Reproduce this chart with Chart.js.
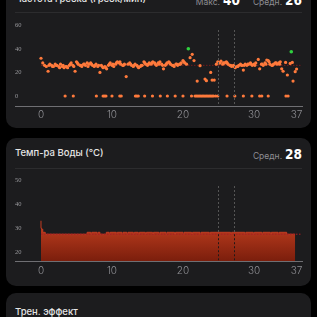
<!DOCTYPE html>
<html lang="ru">
<head>
<meta charset="utf-8">
<script src="https://cdn.jsdelivr.net/npm/chart.js@4.4.1/dist/chart.umd.min.js"></script>
<style>
  html, body { margin: 0; padding: 0; background: #000; width: 317px; height: 317px; overflow: hidden; font-family: Inter, "Noto Sans", sans-serif; }
  .card { position: absolute; left: 6px; width: 305px; background: #1c1c1e; border-radius: 10px; }
  .title { position: absolute; left: 9px; font-size: 9.5px; font-weight: 500; color: #e6e6e6; line-height: 12px; white-space: nowrap; }
  .stat { position: absolute; right: 9px; line-height: 14px; white-space: nowrap; }
  .stat .lbl { font-size: 8.5px; color: #8e8e93; }
  .stat .num { font-family: "Liberation Sans Narrow", "DejaVu Sans Condensed", sans-serif; font-weight: bold; font-size: 13.5px; color: #fff; margin-left: 3px; }
  .sep { position: absolute; left: 9px; right: 9px; height: 1px; background: #2c2c2e; }
  canvas { position: absolute; }
</style>
</head>
<body>

<div class="card" style="top:-16px; height:144px;">
  <div class="title" style="top:9px;">Частота гребка (гребк/мин)</div>
  <div class="stat" style="top:8px;"><span class="lbl">Макс.</span><span class="num">40</span><span class="lbl" style="margin-left:13px;">Средн.</span><span class="num">26</span></div>
  <div class="sep" style="top:28px;"></div>
</div>

<div class="card" style="top:138px; height:148px;">
  <div class="title" style="top:9px;">Темп-ра Воды (°C)</div>
  <div class="stat" style="top:8px;"><span class="lbl">Средн.</span><span class="num">28</span></div>
  <div class="sep" style="top:30px;"></div>
</div>

<div class="card" style="top:293px; height:40px;">
  <div class="title" style="top:13px;">Трен. эффект</div>
</div>

<canvas id="chartGrebok" width="305" height="109" style="left:6px; top:14px;"></canvas>
<canvas id="chartVoda" width="305" height="112" style="left:6px; top:166px;"></canvas>

<script>
// ось X (минуты)
const xTickValues = [0, 10, 20, 30, 36];
const xTickLabels = ['0', '10', '20', '30', '37'];
const pauseTimes = [24.93, 27.18];

// частота гребка
const strokeTimes = [0, 0.25, 0.5, 0.75, 1, 1.25, 1.5, 1.75, 2, 2.25, 2.5, 2.75, 3, 3.25, 3.5, 3.75, 4, 4.25, 4.5, 4.8,
  5, 5.25, 5.5, 5.75, 6, 6.25, 6.5, 6.75, 7, 7.25, 7.5, 7.75, 8, 8.3, 8.5, 8.75, 9, 9.25, 9.5, 9.75,
  10, 10.25, 10.5, 10.75, 11, 11.25, 11.5, 11.75, 12, 12.25, 12.5, 12.75, 13, 13.25, 13.5, 13.75, 14, 14.25, 14.5, 14.75,
  15, 15.25, 15.5, 15.75, 16, 16.25, 16.5, 16.75, 17, 17.25, 17.5, 17.75, 18, 18.25, 18.5, 18.75, 19, 19.25, 19.5, 19.75,
  20, 20.25, 20.5, 21, 21.3, 21.55, 22, 22.4, 23.1, 23.3, 23.9, 24.1, 24.4, 24.7, 24.9,
  25.1, 25.35, 25.6, 25.85, 26.1, 26.35, 26.6, 26.85, 27.1, 27.35, 27.6, 27.85, 28.1, 28.35, 28.5, 28.75, 29, 29.25, 29.5, 29.75,
  30, 30.25, 30.6, 30.8, 31.05, 31.3, 31.55, 31.8, 32, 32.25, 32.5, 32.75, 33, 33.25, 33.5, 33.7, 33.9, 34.1, 34.45, 34.7,
  35.1, 35.4, 35.5, 35.8, 36,
  1.12, 1.62, 2.12, 2.62, 3.12, 3.62, 4.12, 4.62, 5.12, 5.62, 6.12, 6.62, 7.12, 7.62, 8.12, 8.62,
  9.12, 9.62, 10.12, 10.62, 11.12, 11.62, 12.62, 13.12, 13.62, 14.12, 14.62, 15.12, 15.62, 16.12, 16.62, 17.12,
  17.62, 18.12, 18.62, 19.12, 19.62, 20.12, 25.22, 25.72, 26.22, 26.72, 27.22, 27.72, 28.22, 28.62,
  29.12, 29.62, 30.12, 31.17, 31.67, 32.12, 32.62, 33.12, 33.62];
const strokeRates = [32, 28, 26, 25, 21, 27, 26, 25, 27, 26, 25, 27, 25, 24, 25, 24, 26, 28, 26, 21,
  29, 27, 26, 25, 27, 26, 28, 27, 28, 26, 25, 27, 25, 20, 26, 24, 25, 23, 26, 28,
  26, 25, 27, 29, 28, 27, 26, 27, 16.5, 27, 28, 26, 25, 27, 26, 24, 25, 26, 29, 27,
  26, 28, 27, 29, 28, 26, 28, 29, 27, 23, 26, 28, 29, 27, 26, 25, 27, 26, 27, 28,
  30, 28, 27, 32.5, 35.3, 30, 12.7, 25.7, 14.4, 13, 20, 13.5, 13.5, 27, 29,
  28, 29.5, 27, 28, 29, 27, 26, 25, 26, 24, 25, 26, 27, 26, 22, 27, 26, 27, 28, 26,
  27, 28, 31, 23, 27, 26, 28, 30.5, 30, 27, 26, 27, 28, 27, 28, 29, 23, 21, 28.5, 17.8,
  27.6, 28.5, 12.7, 20.6, 22.9,
  26, 25, 26, 24, 26, 25, 27, 25, 28, 26, 27, 25, 27, 26, 26, 25,
  24, 27, 27, 28, 29, 26, 27, 26, 25, 26, 28, 27, 28, 27, 27, 26,
  27, 28, 26, 27, 27, 29, 28, 28, 28, 26, 25, 25, 26, 26,
  27, 27, 26, 27, 27, 29, 26, 28, 27];
const restTimes = [3.4, 4.55, 7.8, 8.75, 8.95, 9.15, 10, 11.1, 11.3, 13.3, 13.5, 13.7, 14.6, 15.7, 16.8, 17.8, 18.9, 20, 21.2,
  21.7, 21.9, 22.1, 22.3, 22.5, 22.7, 22.9, 23.1, 23.3, 23.5, 23.7, 23.9, 24.1, 24.3, 24.6, 24.9,
  26.2, 27.3, 28.5, 29.7, 30.8, 31.1, 32, 34.5, 34.8];
const peakTimes = [20.75, 35.25];
const peakRates = [40, 37.5];
const strokeAvg = 26;
const strokeYTicks = [0, 20, 40, 60];

// температура воды
const tempTimes = [0, 0.05, 0.25, 0.6, 6.5, 7, 7.15, 7.9, 8.05, 8.3, 9.2, 9.6, 9.75, 10.6, 10.75, 11.4, 11.55, 12.1, 12.25,
  13, 13.15, 13.7, 13.85, 14.7, 14.85, 15.7, 15.85, 16.6, 16.75, 17.6, 17.75, 18.8, 18.95, 20, 20.15, 21.2, 21.35,
  22.4, 22.55, 23.7, 23.85, 26.7, 26.85, 28.7, 28.85, 29.9, 30.05, 31.1, 31.25, 32.3, 32.45, 33.4, 33.55, 34.6, 34.75, 35.8];
const tempValues = [33, 30, 29.5, 28.2, 27.4, 28.2, 27.4, 28.2, 27.4, 28.2, 27.4, 28.2, 27.4, 28.2, 27.4, 28.2, 27.4, 28.2, 27.4,
  28.2, 27.4, 28.2, 27.4, 28.2, 27.4, 28.2, 27.4, 28.2, 27.4, 28.2, 27.4, 28.2, 27.4, 28.2, 27.4, 28.2, 27.4,
  28.2, 27.4, 28.2, 27.4, 28.2, 27.4, 28.2, 27.4, 28.2, 27.4, 28.2, 27.4, 28.2, 27.4, 28.2, 27.4, 28.2, 27.4, 27.4];
const tempAvg = 27.4;
const tempYTicks = [20, 30, 40, 50];

const X_MIN = -3.66, X_MAX = 36.76;

// пунктирные линии пауз
const pauseLines = {
  id: 'pauseLines',
  afterDatasetsDraw(chart, args, opts) {
    const { ctx, chartArea, scales } = chart;
    ctx.save();
    ctx.lineWidth = 1;
    ctx.setLineDash([2, 2]);
    pauseTimes.forEach(t => {
      const x = Math.round(scales.x.getPixelForValue(t)) + 0.5;
      ctx.strokeStyle = '#555';
      ctx.beginPath();
      ctx.moveTo(x, chartArea.top + opts.top);
      ctx.lineTo(x, chartArea.bottom);
      ctx.stroke();
      if (opts.fillTop != null) {
        ctx.strokeStyle = '#2a1410';
        ctx.beginPath();
        ctx.moveTo(x, scales.y.getPixelForValue(opts.fillTop));
        ctx.lineTo(x, chartArea.bottom);
        ctx.stroke();
      }
    });
    ctx.restore();
  }
};

function xAxis(pad) {
  return {
    type: 'linear', min: X_MIN, max: X_MAX,
    grid: { display: false, drawTicks: false },
    border: { display: true, color: '#6f6f73', width: 1 },
    afterBuildTicks: axis => { axis.ticks = xTickValues.map(v => ({ value: v })); },
    afterFit: axis => { axis.height = 17; },
    ticks: {
      autoSkip: false, maxRotation: 0, padding: pad,
      color: '#8e8e93', font: { family: 'Inter', size: 10, weight: 300 },
      callback: (v, i) => xTickLabels[i]
    }
  };
}

function yAxis(min, max, ticks) {
  return {
    min: min, max: max,
    grid: { display: false, drawTicks: false },
    border: { display: false },
    afterBuildTicks: axis => { axis.ticks = ticks.map(v => ({ value: v })); },
    afterFit: axis => { axis.width = 0; },
    ticks: {
      mirror: true, padding: 0,
      color: '#9a9a9e', font: { family: 'Liberation Sans Narrow', size: 6.5 }
    }
  };
}

new Chart(document.getElementById('chartGrebok'), {
  type: 'scatter',
  data: {
    datasets: [
      {
        data: peakTimes.map((t, i) => ({ x: t, y: peakRates[i] })),
        pointRadius: 1.8, pointBackgroundColor: '#2fd13f', pointBorderWidth: 0, order: 0
      },
      {
        data: strokeTimes.map((t, i) => ({ x: t, y: strokeRates[i] }))
          .concat(restTimes.map(t => ({ x: t, y: 0 }))),
        pointRadius: 1.6, pointBackgroundColor: '#ff7a3c', pointBorderWidth: 0, order: 1
      },
      {
        type: 'line',
        data: [{ x: 0, y: strokeAvg }, { x: X_MAX, y: strokeAvg }],
        borderColor: '#741c1c', borderWidth: 1, borderDash: [1.5, 1.5], pointRadius: 0, order: 3
      }
    ]
  },
  options: {
    responsive: false, animation: false, devicePixelRatio: 1,
    layout: { padding: { left: 9, right: 9, top: 6, bottom: 0 } },
    scales: { x: xAxis(3), y: yAxis(-8.45, 64.4, strokeYTicks) },
    plugins: { legend: { display: false }, tooltip: { enabled: false }, pauseLines: { top: 10 } }
  },
  plugins: [pauseLines]
});

new Chart(document.getElementById('chartVoda'), {
  type: 'line',
  data: {
    datasets: [
      {
        data: [{ x: 0, y: tempAvg }, { x: X_MAX, y: tempAvg }],
        borderColor: '#a81d26', borderWidth: 1, borderDash: [1.5, 1.5], pointRadius: 0, order: 0
      },
      {
        data: tempTimes.map((t, i) => ({ x: t, y: tempValues[i] })),
        stepped: 'after', fill: 'start', pointRadius: 0,
        borderColor: '#c43d22', borderWidth: 1, order: 1,
        backgroundColor: c => {
          const chart = c.chart;
          if (!chart.chartArea) return '#9a2c15';
          const g = chart.ctx.createLinearGradient(0, chart.scales.y.getPixelForValue(28.5), 0, chart.chartArea.bottom);
          g.addColorStop(0, '#b0371b');
          g.addColorStop(1, '#7b1e0c');
          return g;
        }
      }
    ]
  },
  options: {
    responsive: false, animation: false, devicePixelRatio: 1,
    layout: { padding: { left: 9, right: 9, top: 6, bottom: 0 } },
    scales: { x: xAxis(4), y: yAxis(16.25, 53.3, tempYTicks) },
    plugins: { legend: { display: false }, tooltip: { enabled: false }, pauseLines: { top: 14, fillTop: tempAvg } }
  },
  plugins: [pauseLines]
});
</script>
</body>
</html>
